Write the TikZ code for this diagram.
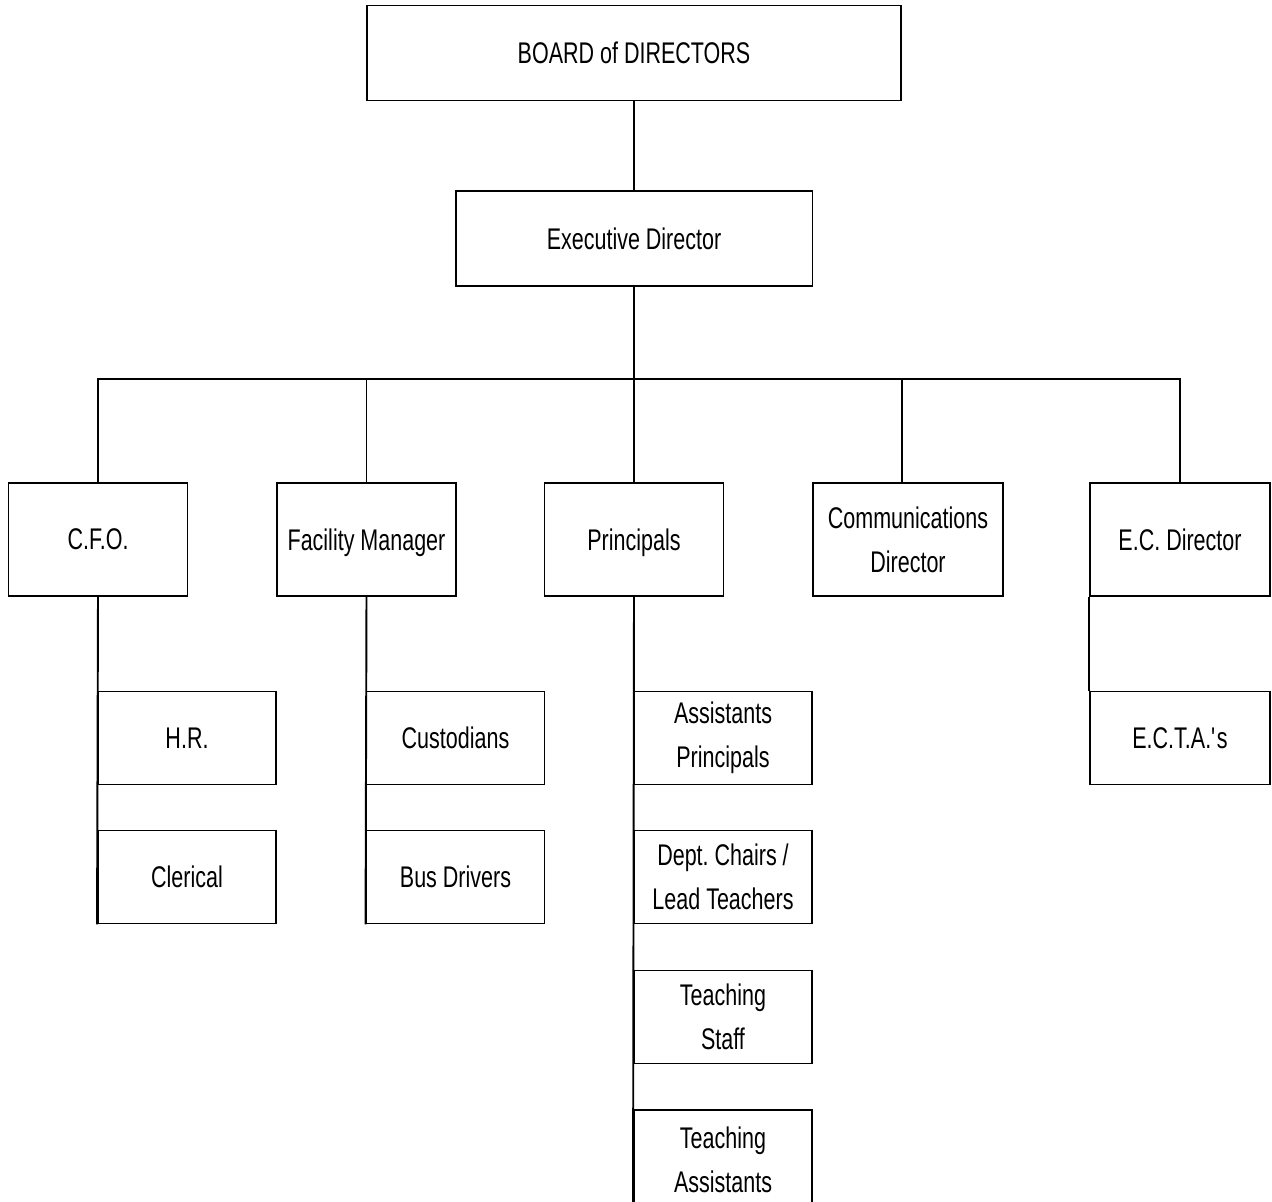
\documentclass[tikz,border=0pt]{standalone}
\usepackage{fontspec}
\setmainfont[FakeStretch=0.72]{Liberation Sans}
\frenchspacing

\tikzset{
	orgtop/.style={draw, rectangle, line width=1.1pt, inner sep=2pt, align=center, minimum height=1.9cm},
	orgmid/.style={orgtop, minimum width=3.58cm, minimum height=2.26cm},
	orgsub/.style={orgtop, minimum width=3.56cm, minimum height=1.86cm}
}

\begin{document}
\begin{tikzpicture}[x=0.02cm, y=-0.02cm, font=\fontsize{17}{25}\selectfont]
	\useasboundingbox (0,0) rectangle (1272,1202);
	\node[orgtop, minimum width=10.7cm, name=board] at (634, 53) {BOARD of DIRECTORS};
	\node[orgtop, minimum width=7.14cm, name=exec] at (634, 238.5) {Executive Director};
	\coordinate (bus) at (634, 379);
	\node[orgmid, name=cfo] at (98, 539.5) {C.F.O.};
	\node[orgmid, text depth=0pt, name=fac] at (366.5, 539.5) {Facility Manager};
	\node[orgmid, text depth=0pt, name=prin] at (634, 539.5) {Principals};
	\node[orgmid, minimum width=3.8cm, name=comm] at (908, 539.5) {Communications\\Director};
	\node[orgmid, minimum width=3.6cm, name=ecd] at (1180, 539.5) {E.C. Director};
	\node[orgsub, name=hr] at (187, 738) {H.R.};
	\node[orgsub, name=cler] at (187, 877) {Clerical};
	\node[orgsub, name=cust] at (455.5, 738) {Custodians};
	\node[orgsub, name=busd] at (455.5, 877) {Bus Drivers};
	\node[orgsub, name=asst] at (723, 738) {Assistants\\Principals};
	\node[orgsub, name=dept] at (723, 877) {Dept. Chairs /\\Lead Teachers};
	\node[orgsub, name=teach] at (723, 1017) {Teaching\\Staff};
	\node[orgsub, minimum height=2cm, name=tas] at (723, 1160) {Teaching\\Assistants};
	\node[orgsub, minimum width=3.6cm, name=ecta] at (1180, 738) {E.C.T.A.\textquotesingle s};
	\draw[line width=1.1pt] (board.south) -- (exec.north);
	\draw[line width=1.1pt] (exec.south) -- (bus);
	\draw[line width=1.1pt] (cfo.north) |- (ecd.north |- bus) -- (ecd.north);
	\draw[line width=1.1pt] (fac.north) -- (fac.north |- bus);
	\draw[line width=1.1pt] (prin.north) -- (bus);
	\draw[line width=1.1pt] ([xshift=-0.12cm]comm.north) -- ([xshift=-0.12cm]comm.north |- bus);
	\draw[line width=1.1pt] (cfo.south) -- (cler.south west);
	\draw[line width=1.1pt] (fac.south) -- (busd.south west);
	\draw[line width=1.1pt] (prin.south) -- (tas.south west);
	\draw[line width=1.1pt] (ecd.south west) -- (ecta.north west);
\end{tikzpicture}
\end{document}
